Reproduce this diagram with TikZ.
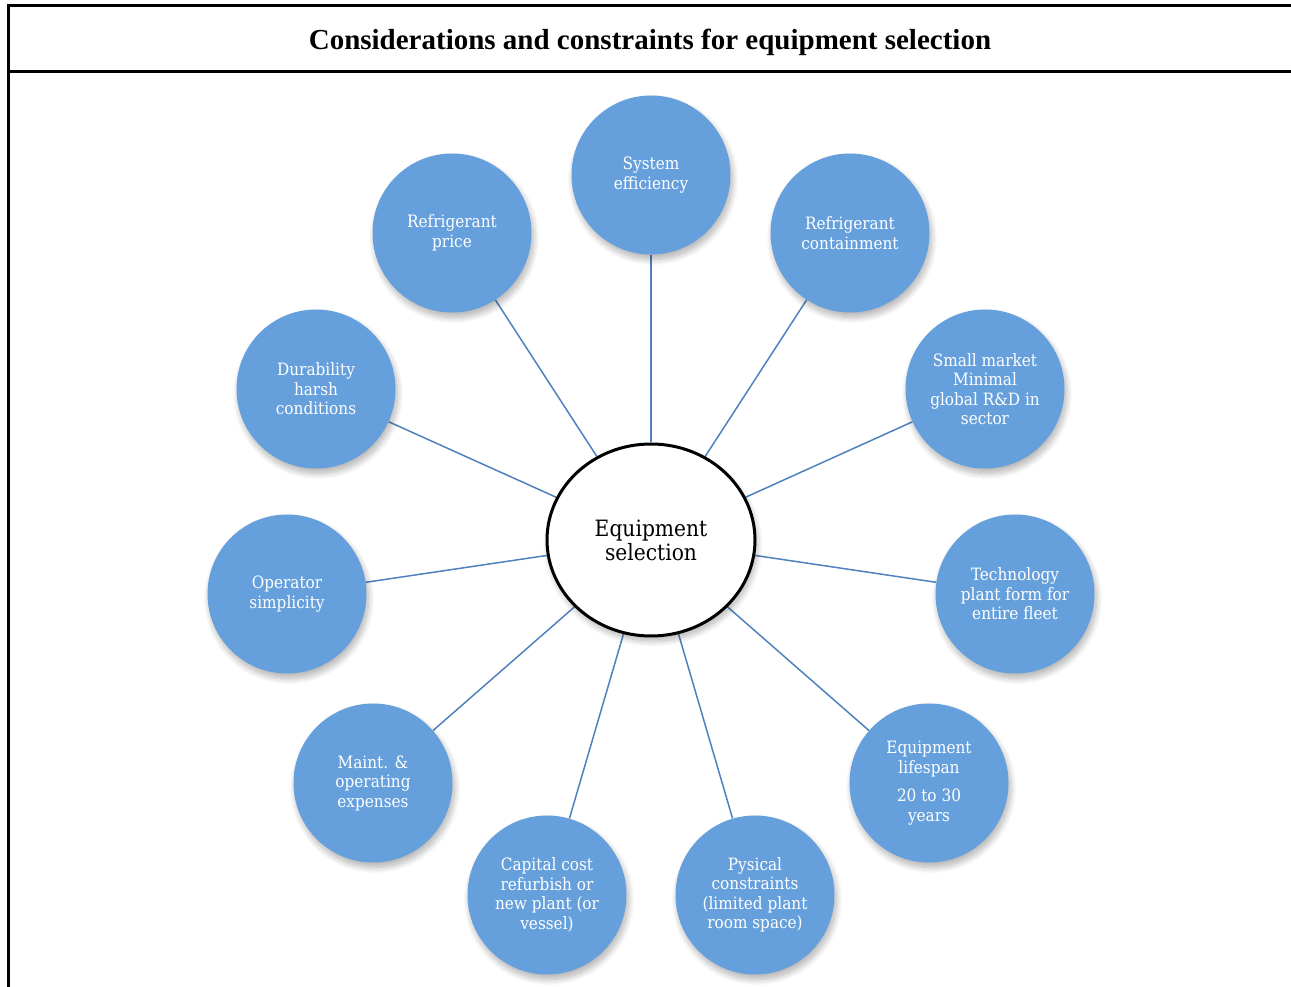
\documentclass[tikz,border=0pt]{standalone}
\usepackage{fontspec}
\setmainfont{Liberation Serif}
\newfontfamily\bubblefont{DejaVu Serif Condensed}
\usetikzlibrary{shapes.geometric,shadows.blur,backgrounds}
\definecolor{bubblefill}{RGB}{102,160,220}
\definecolor{spoke}{RGB}{79,129,189}
\tikzset{
  softshadow/.style={blur shadow={shadow xshift=2pt, shadow yshift=-5pt,
    shadow blur radius=6pt, shadow blur steps=12, shadow opacity=30}},
  bubble/.style={circle, fill=bubblefill, minimum size=159pt, inner sep=0pt,
    text=white, align=center, font=\bubblefont\fontsize{17}{19.5}\selectfont,
    softshadow},
  hub/.style={ellipse, draw=black, line width=3pt, fill=white,
    minimum width=208pt, minimum height=192pt, inner sep=0pt, align=center,
    font=\bubblefont\fontsize{22.5}{24}\selectfont, softshadow},
  spokeline/.style={draw=spoke, line width=1.5pt},
  frameline/.style={line width=3pt, black}
}
\begin{document}
\begin{tikzpicture}[x=1pt,y=1pt]
\useasboundingbox (0,0) rectangle (1291,986);

% frame and title bar
\coordinate (fbl) at (8,0);
\coordinate (ftl) at (8,980.5);
\coordinate (ftr) at (1291,980.5);
\coordinate (fml) at (8,914);
\coordinate (fmr) at (1291,914);
\draw[frameline, line cap=rect] (fbl) -- (ftl) -- (ftr);
\draw[frameline] (fml) -- (fmr);
\node[font=\bfseries\fontsize{29}{32}\selectfont] (title) at (650,944)
  {Considerations and constraints for equipment selection};

% hub and surrounding factors
\node[hub] (hub) at (651,446) {Equipment\\selection};

\node[bubble] (eff)  at (651,811) {System\\efficiency};
\node[bubble] (price) at (452,753) {Refrigerant\\price};
\node[bubble] (cont) at (850,753) {Refrigerant\\containment};
\node[bubble] (dur)  at (316,597) {Durability\\harsh\\conditions};
\node[bubble] (mkt)  at (985,597) {Small market\\Minimal\\global R\&D in\\sector};
\node[bubble] (oper) at (287,392) {Operator\\simplicity};
\node[bubble] (tech) at (1015,392) {Technology\\plant form for\\entire fleet};
\node[bubble] (maint) at (373,203) {Maint. \&\\operating\\expenses};
\node[bubble] (life) at (929,203) {Equipment\\lifespan\\[9pt]20 to 30\\years};
\node[bubble] (cap)  at (547,91) {Capital cost\\refurbish or\\new plant (or\\vessel)};
\node[bubble] (phys) at (755,91) {Pysical\\constraints\\(limited plant\\room space)};

% spokes from the hub, kept behind the bubbles
\begin{scope}[on background layer]
\foreach \n in {eff,price,cont,dur,mkt,oper,tech,maint,life,cap,phys}
  \draw[spokeline] (hub) -- (\n);
\end{scope}
\end{tikzpicture}
\end{document}
